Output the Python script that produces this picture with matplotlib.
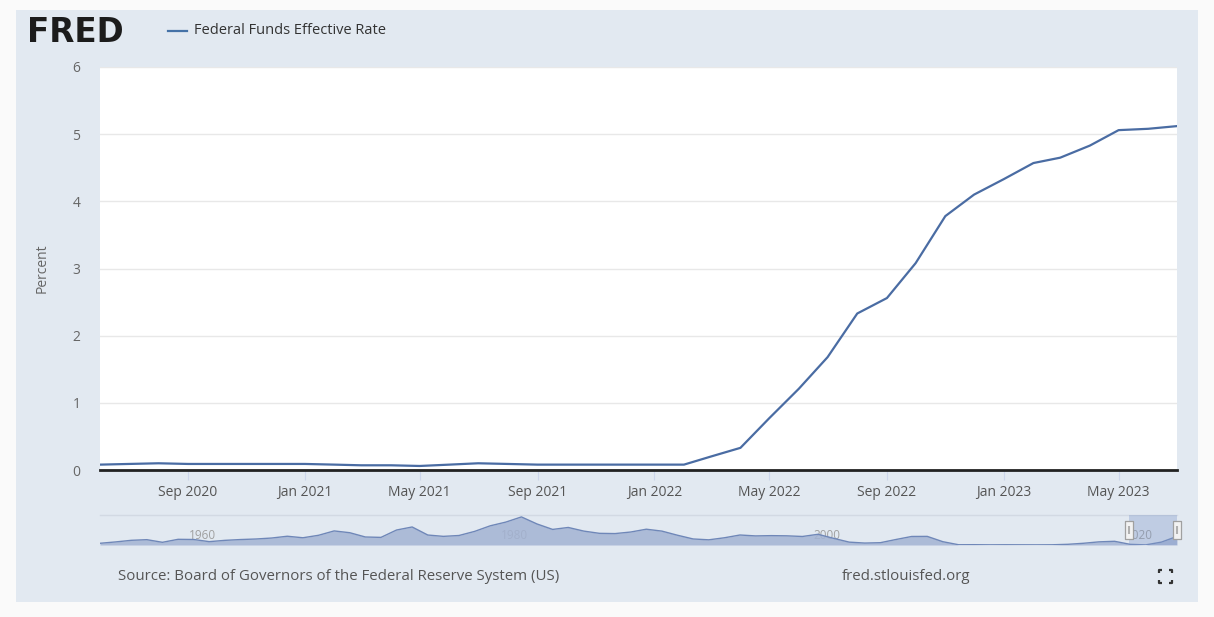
import matplotlib
matplotlib.use("Agg")
import matplotlib.pyplot as plt
import pandas as pd
from matplotlib.lines import Line2D
from matplotlib.patches import Rectangle
from matplotlib.path import Path

# ---------------- data ----------------
months = ["2020-06", "2020-07", "2020-08", "2020-09", "2020-10", "2020-11", "2020-12",
          "2021-01", "2021-02", "2021-03", "2021-04", "2021-05", "2021-06", "2021-07",
          "2021-08", "2021-09", "2021-10", "2021-11", "2021-12", "2022-01", "2022-02",
          "2022-03", "2022-04", "2022-05", "2022-06", "2022-07", "2022-08", "2022-09",
          "2022-10", "2022-11", "2022-12", "2023-01", "2023-02", "2023-03", "2023-04",
          "2023-05", "2023-06", "2023-07"]
rates = [0.08, 0.09, 0.10, 0.09, 0.09, 0.09, 0.09,
         0.09, 0.08, 0.07, 0.07, 0.06, 0.08, 0.10,
         0.09, 0.08, 0.08, 0.08, 0.08, 0.08, 0.08,
         0.20, 0.33, 0.77, 1.21, 1.68, 2.33, 2.56,
         3.08, 3.78, 4.10, 4.33, 4.57, 4.65, 4.83,
         5.06, 5.08, 5.12]
tick_months = ["2020-09", "2021-01", "2021-05", "2021-09", "2022-01",
               "2022-05", "2022-09", "2023-01", "2023-05"]
y_ticks = [0, 1, 2, 3, 4, 5, 6]

nav_years = list(range(1954, 2024))
nav_rates = [1.00, 1.79, 2.73, 3.11, 1.57, 3.31, 3.21, 1.95, 2.71, 3.18,
             3.50, 4.07, 5.11, 4.22, 5.66, 8.21, 7.17, 4.67, 4.44, 8.74,
             10.51, 5.82, 5.04, 5.54, 7.93, 11.19, 13.36, 16.38, 12.26, 9.09,
             10.23, 8.10, 6.80, 6.66, 7.57, 9.21, 8.10, 5.69, 3.52, 3.02,
             4.21, 5.83, 5.30, 5.46, 5.35, 4.97, 6.24, 3.88, 1.67, 1.13,
             1.35, 3.22, 4.97, 5.02, 1.92, 0.16, 0.18, 0.10, 0.14, 0.11,
             0.09, 0.13, 0.40, 1.00, 1.83, 2.16, 0.38, 0.08, 1.68, 5.00]
nav_label_years = [1960, 1980, 2000, 2020]

series_name = "Federal Funds Effective Rate"
source_text = "Source: Board of Governors of the Federal Reserve System (US)"
site_text = "fred.stlouisfed.org"

# ---------------- style ----------------
W, H = 1214, 617
FONT = ["Open Sans", "DejaVu Sans"]
plt.rcParams["font.family"] = FONT
LINE_C = "#4a6ca3"
PANEL_C = "#e2e9f1"

def fx(px):
    return px / W

def fy(py):
    return 1 - py / H

fig = plt.figure(figsize=(W / 100, H / 100), dpi=100)
fig.patch.set_facecolor("#fafafa")
fig.patches.append(Rectangle((fx(16), fy(602)), fx(1198) - fx(16), fy(10) - fy(602),
                             transform=fig.transFigure, facecolor=PANEL_C,
                             edgecolor="none", zorder=-5))

# ---------------- main chart ----------------
L, R, T, B = 100, 1177, 67, 470
ax = fig.add_axes([fx(L), fy(B), fx(R) - fx(L), (B - T) / H])
ax.set_facecolor("white")
dates = pd.to_datetime(months)
ax.plot(dates, rates, color=LINE_C, lw=1.6, solid_joinstyle="round", zorder=3)
ax.set_xlim(dates[0], dates[-1])
ax.set_ylim(0, 6)
ax.set_yticks(y_ticks)
ax.set_yticklabels([str(v) for v in y_ticks])
tdates = pd.to_datetime(tick_months)
ax.set_xticks(tdates)
ax.set_xticklabels([d.strftime("%b %Y") for d in tdates])
ax.grid(axis="y", color="#e8e8e8", lw=1)
ax.set_axisbelow(True)
for s in ["top", "left", "right"]:
    ax.spines[s].set_visible(False)
ax.spines["bottom"].set_color("#222222")
ax.spines["bottom"].set_linewidth(2)
ax.spines["bottom"].set_zorder(4)
ax.tick_params(axis="x", length=7.5, width=0.8, color="#ccd6eb", labelcolor="#555555",
               labelsize=10, pad=3)
ax.tick_params(axis="y", length=0, pad=14, labelcolor="#666666", labelsize=10)
fig.text(fx(42), fy(268), "Percent", rotation=90, ha="center", va="center",
         fontsize=10, color="#666666")

# ---------------- navigator ----------------
NT, NB = 515, 545
nav = fig.add_axes([fx(L), fy(NB), fx(R) - fx(L), (NB - NT) / H])
nav.set_facecolor("none")
nav_x = [y + 0.5 for y in nav_years]
nav.set_xlim(nav_x[0], nav_x[-1])
nav.set_ylim(0, 17.5)
for yr in nav_label_years:
    nav.text(yr + 0.2, 17.5 * 0.33, str(yr), fontsize=8.5, color="#a0a0a0",
             ha="left", va="center", zorder=1)
nav.fill_between(nav_x, nav_rates, 0, color="#a3b3d3", alpha=0.85, lw=0, zorder=2)
nav.plot(nav_x, nav_rates, color="#6f87b8", lw=1, zorder=3)
for s in ["left", "right", "bottom"]:
    nav.spines[s].set_visible(False)
nav.spines["top"].set_color("#d2d9e3")
nav.spines["top"].set_linewidth(1)
nav.set_xticks([])
nav.set_yticks([])

def dec_year(m):
    return int(m[:4]) + (int(m[5:7]) - 1) / 12

sel0, sel1 = dec_year(months[0]), dec_year(months[-1])
nav.axvspan(sel0, sel1, color="#7f98c9", alpha=0.35, lw=0, zorder=4)
handle = Path([(-0.5, -1), (0.5, -1), (0.5, 1), (-0.5, 1), (-0.5, -1)],
              [Path.MOVETO, Path.LINETO, Path.LINETO, Path.LINETO, Path.CLOSEPOLY])
for hx in (sel0, sel1):
    nav.plot([hx], [17.5 * 0.5], marker=handle, markersize=12.5, markerfacecolor="#f2f2f2",
             markeredgecolor="#a0a0a0", markeredgewidth=0.9, clip_on=False, zorder=6)
    nav.plot([hx], [17.5 * 0.5], marker="|", markersize=6, markeredgecolor="#b0b0b0",
             markeredgewidth=1.5, clip_on=False, zorder=7)

# ---------------- header ----------------
fig.text(fx(27), fy(32), "FRED", fontsize=23.5, fontweight="heavy", color="#1c1c1c",
         ha="left", va="center", family="DejaVu Sans")
fig.lines.append(Line2D([fx(168), fx(187)], [fy(31), fy(31)], color="#4572a7", lw=1.6,
                        transform=fig.transFigure))
fig.text(fx(194), fy(31), series_name, fontsize=10.5, color="#333333",
         ha="left", va="center")

# ---------------- footer ----------------
fig.text(fx(118), fy(576), source_text, fontsize=10.8, color="#555555",
         ha="left", va="center")
fig.text(fx(906), fy(576), site_text, fontsize=10.8, color="#555555",
         ha="center", va="center")
cx, cy, hs, arm = 1165, 576, 6.5, 3
for sx in (-1, 1):
    for sy in (-1, 1):
        px0, py0 = cx + sx * hs, cy + sy * hs
        fig.lines.append(Line2D([fx(px0), fx(px0), fx(px0 - sx * arm)],
                                [fy(py0 - sy * arm), fy(py0), fy(py0)],
                                color="#333333", lw=1.6, transform=fig.transFigure,
                                solid_capstyle="butt"))

fig.savefig("out.png", dpi=100, facecolor=fig.get_facecolor())
